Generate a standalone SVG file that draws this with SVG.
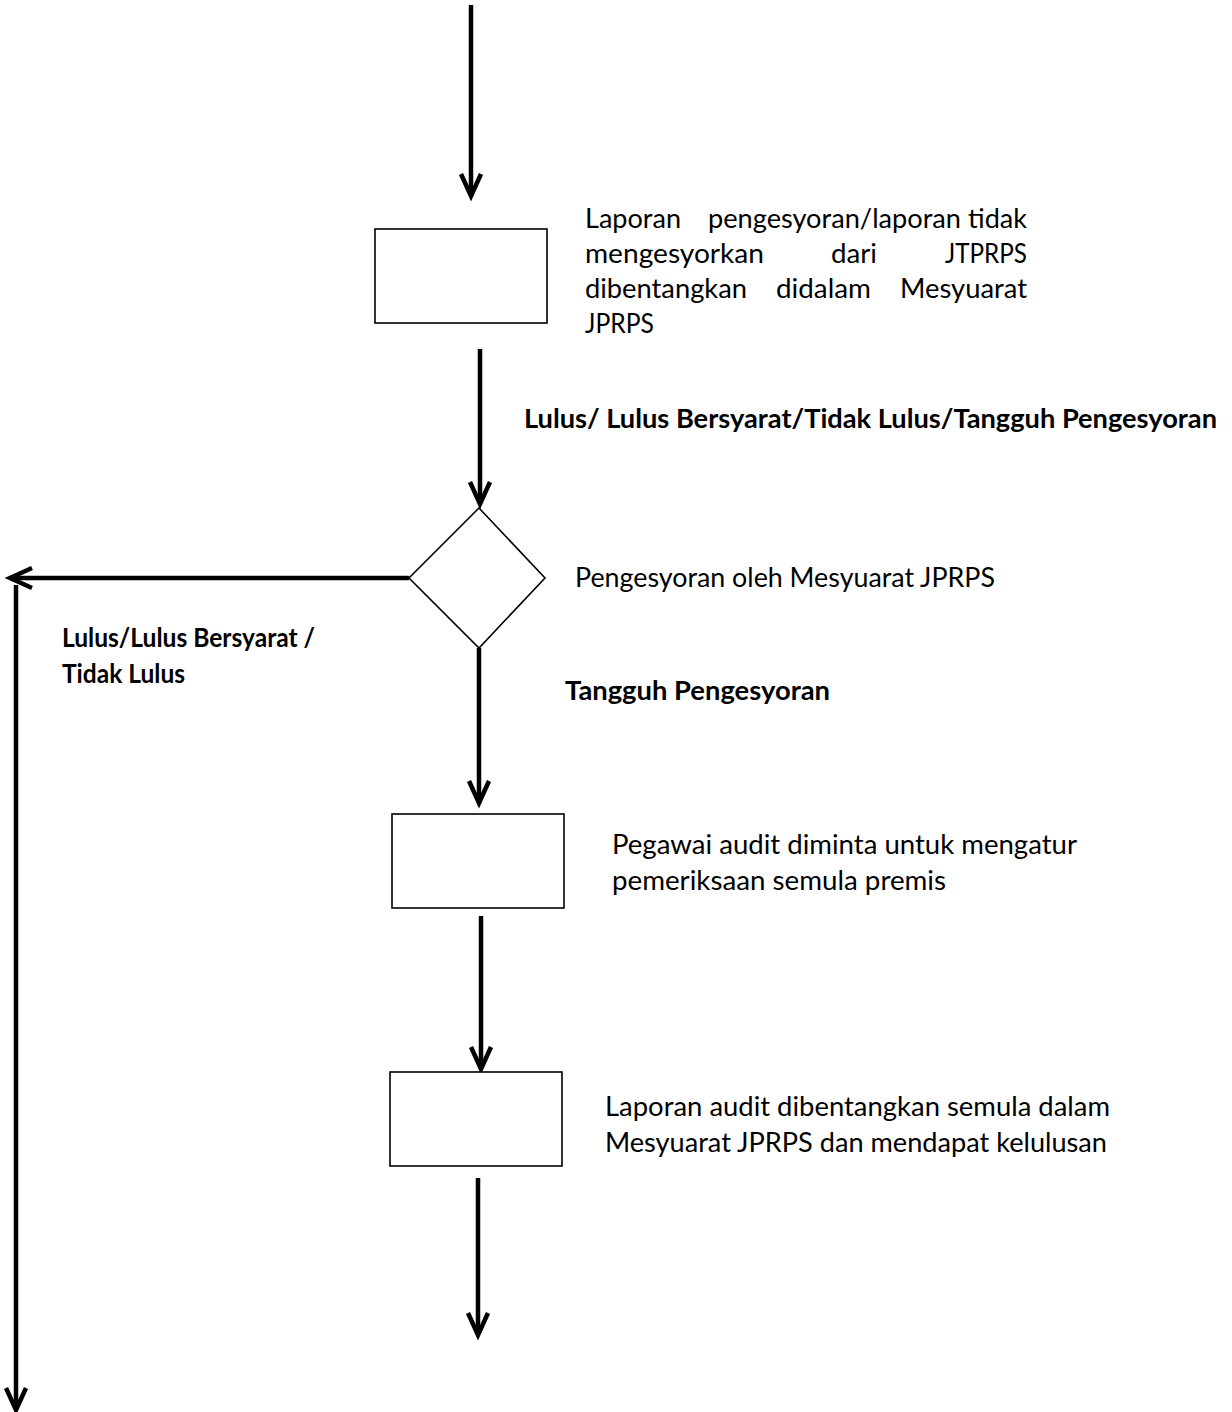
<svg xmlns="http://www.w3.org/2000/svg" width="1232" height="1412" viewBox="0 0 1232 1412">
<style>
.bg{fill:#fff}
.node{fill:#fff;stroke:#000;stroke-width:1.6}
.conn{fill:none;stroke:#000;stroke-width:4.5}
.head{fill:none;stroke:#000;stroke-width:4.5;stroke-linejoin:miter;stroke-linecap:butt}
.t{font-family:Lato,"Open Sans","Liberation Sans",sans-serif;font-size:26px;fill:#000}
.b{font-weight:bold}
</style>
<rect class="bg" x="0" y="0" width="1232" height="1412"/>
<g id="connectors">
  <line class="conn" x1="471" y1="5" x2="471" y2="195"/>
  <polyline class="head" points="461,174 471,196 481,174"/>
  <line class="conn" x1="480" y1="349" x2="480" y2="503"/>
  <polyline class="head" points="470,482 480,504 490,482"/>
  <line class="conn" x1="409" y1="578" x2="12" y2="578"/>
  <polyline class="head" points="32,568 10,578 32,588"/>
  <line class="conn" x1="16" y1="585" x2="16" y2="1408"/>
  <polyline class="head" points="6,1388 16,1410 26,1388"/>
  <line class="conn" x1="479" y1="648" x2="479" y2="800"/>
  <polyline class="head" points="469,781 479,803 489,781"/>
  <line class="conn" x1="481" y1="916" x2="481" y2="1066"/>
  <polyline class="head" points="471,1047 481,1069 491,1047"/>
  <line class="conn" x1="478" y1="1178" x2="478" y2="1332"/>
  <polyline class="head" points="468,1313 478,1335 488,1313"/>
</g>
<g id="box1">
  <rect class="node" x="375" y="229" width="172" height="94"/>
</g>
<g id="text1">
  <text class="t" x="585" y="228" textLength="96" lengthAdjust="spacingAndGlyphs">Laporan</text>
  <text class="t" x="708" y="228" textLength="253" lengthAdjust="spacingAndGlyphs">pengesyoran/laporan</text>
  <text class="t" x="968" y="228" textLength="59" lengthAdjust="spacingAndGlyphs">tidak</text>
  <text class="t" x="585" y="263" textLength="179" lengthAdjust="spacingAndGlyphs">mengesyorkan</text>
  <text class="t" x="831" y="263" textLength="46" lengthAdjust="spacingAndGlyphs">dari</text>
  <text class="t" x="945" y="263" textLength="82" lengthAdjust="spacingAndGlyphs">JTPRPS</text>
  <text class="t" x="585" y="298" textLength="162" lengthAdjust="spacingAndGlyphs">dibentangkan</text>
  <text class="t" x="776" y="298" textLength="95" lengthAdjust="spacingAndGlyphs">didalam</text>
  <text class="t" x="900" y="298" textLength="127" lengthAdjust="spacingAndGlyphs">Mesyuarat</text>
  <text class="t" x="585" y="333" textLength="69" lengthAdjust="spacingAndGlyphs">JPRPS</text>
</g>
<g id="label1">
  <text class="t b" x="524" y="428" textLength="693" lengthAdjust="spacingAndGlyphs">Lulus/ Lulus Bersyarat/Tidak Lulus/Tangguh Pengesyoran</text>
</g>
<g id="decision">
  <polygon class="node" points="479,508 545,578 479,648 409,578"/>
  <text class="t" x="575" y="587" textLength="420" lengthAdjust="spacingAndGlyphs">Pengesyoran oleh Mesyuarat JPRPS</text>
</g>
<g id="label2">
  <text class="t b" x="62" y="647" textLength="253" lengthAdjust="spacingAndGlyphs">Lulus/Lulus Bersyarat /</text>
  <text class="t b" x="62" y="683" textLength="123" lengthAdjust="spacingAndGlyphs">Tidak Lulus</text>
</g>
<g id="label3">
  <text class="t b" x="565" y="700" textLength="265" lengthAdjust="spacingAndGlyphs">Tangguh Pengesyoran</text>
</g>
<g id="box2">
  <rect class="node" x="392" y="814" width="172" height="94"/>
  <text class="t" x="612" y="854" textLength="465" lengthAdjust="spacingAndGlyphs">Pegawai audit diminta untuk mengatur</text>
  <text class="t" x="612" y="890" textLength="334" lengthAdjust="spacingAndGlyphs">pemeriksaan semula premis</text>
</g>
<g id="box3">
  <rect class="node" x="390" y="1072" width="172" height="94"/>
  <text class="t" x="605" y="1116" textLength="505" lengthAdjust="spacingAndGlyphs">Laporan audit dibentangkan semula dalam</text>
  <text class="t" x="605" y="1152" textLength="502" lengthAdjust="spacingAndGlyphs">Mesyuarat JPRPS dan mendapat kelulusan</text>
</g>
</svg>
